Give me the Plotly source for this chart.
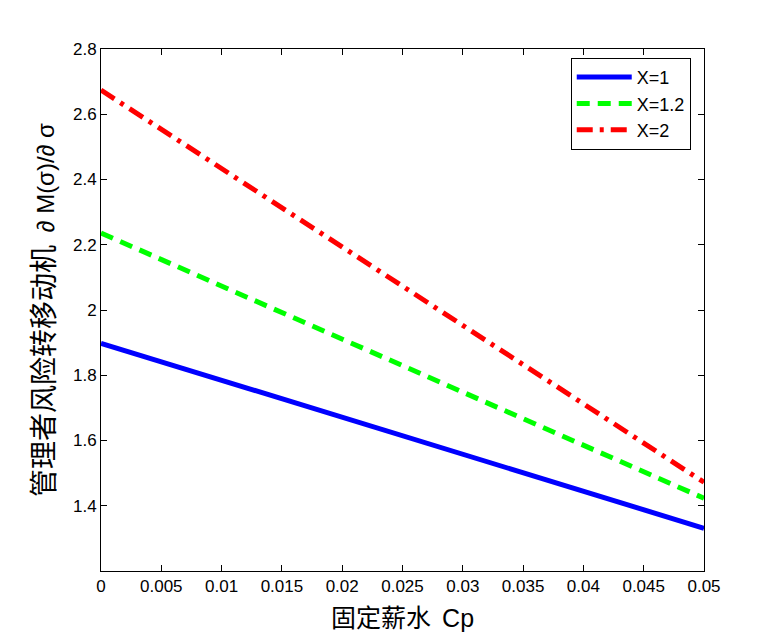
import plotly.graph_objects as go

cp = [0.0, 0.025, 0.05]
y_x1 = [1.898, 1.615, 1.331]
y_x12 = [2.236, 1.830, 1.423]
y_x2 = [2.674, 2.073, 1.472]
names = ["X=1", "X=1.2", "X=2"]
xticks = [0, 0.005, 0.01, 0.015, 0.02, 0.025, 0.03, 0.035, 0.04, 0.045, 0.05]
xticklabels = ["0", "0.005", "0.01", "0.015", "0.02", "0.025", "0.03", "0.035", "0.04", "0.045", "0.05"]
yticks = [1.4, 1.6, 1.8, 2.0, 2.2, 2.4, 2.6, 2.8]
yticklabels = ["1.4", "1.6", "1.8", "2", "2.2", "2.4", "2.6", "2.8"]

fig = go.Figure()
fig.add_trace(go.Scatter(x=cp, y=y_x1, mode="lines", name=names[0],
                         line=dict(color="#0000ff", width=5)))
fig.add_trace(go.Scatter(x=cp, y=y_x12, mode="lines", name=names[1],
                         line=dict(color="#00ff00", width=5, dash="13px,8px")))
fig.add_trace(go.Scatter(x=cp, y=y_x2, mode="lines", name=names[2],
                         line=dict(color="#ff0000", width=5, dash="16px,7px,4px,7px")))

axis_common = dict(showline=True, linecolor="black", linewidth=1, mirror="ticks",
                   ticks="inside", ticklen=6, tickcolor="black", showgrid=False,
                   zeroline=False, tickfont=dict(family="Liberation Sans, Arial", size=17, color="black"))

ylabel = ("管理者风险转移动机  "
          "<span style='font-family:Liberation Sans, Arial;font-size:24px'>∂ M(σ)/∂ σ</span>")

fig.update_layout(
    width=779, height=642,
    margin=dict(l=101, r=75, t=49, b=71),
    paper_bgcolor="white", plot_bgcolor="white",
    xaxis=dict(range=[0, 0.05], tickvals=xticks, ticktext=xticklabels,
               title=dict(text="固定薪水  <span style='font-family:Liberation Sans, Arial'>Cp</span>", standoff=14,
                          font=dict(family="Noto Sans CJK SC", size=25, color="black")),
               **axis_common),
    yaxis=dict(range=[1.2, 2.8], tickvals=yticks, ticktext=yticklabels,
               title=dict(text=ylabel, standoff=10,
                          font=dict(family="Noto Sans CJK SC", size=28, color="black")),
               **axis_common),
    legend=dict(x=0.779, y=0.983, xanchor="left", yanchor="top",
                bordercolor="black", borderwidth=1, bgcolor="white",
                font=dict(family="Liberation Sans, Arial", size=18, color="black"),
                itemwidth=55),
    showlegend=True,
)

fig.write_html("out.html")
